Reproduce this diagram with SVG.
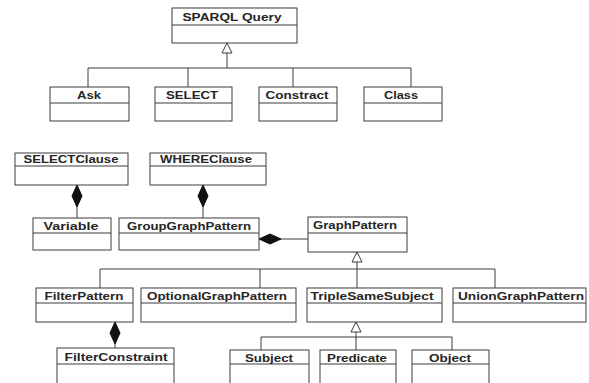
<svg xmlns="http://www.w3.org/2000/svg" width="589" height="383" viewBox="0 0 589 383">
  <style>
    .box rect { fill: #ffffff; stroke: #3c3c3c; stroke-width: 1; }
    .box line { stroke: #3c3c3c; stroke-width: 1; }
    .box text { font-family: "Liberation Sans", Arial, sans-serif; font-weight: bold; font-size: 11.5px; fill: #262626; text-anchor: middle; }
    .conn path { fill: none; stroke: #3c3c3c; stroke-width: 1; }
  </style>
  <defs>
    <!-- hollow triangle: UML generalization -->
    <marker id="gen" markerUnits="userSpaceOnUse" markerWidth="14" markerHeight="14" refX="0" refY="0" viewBox="-2 -7 14 14" orient="auto" overflow="visible">
      <path d="M0 0 L10 -5 L10 5 Z" fill="#ffffff" stroke="#3c3c3c" stroke-width="1"/>
    </marker>
    <!-- filled diamond: UML composition -->
    <marker id="comp" markerUnits="userSpaceOnUse" markerWidth="26" markerHeight="12" refX="0" refY="0" viewBox="-2 -6 26 12" orient="auto" overflow="visible">
      <path d="M0 0 L11 -5 L22 0 L11 5 Z" fill="#111111" stroke="#111111" stroke-width="1"/>
    </marker>
  </defs>
  <rect width="589" height="383" fill="#ffffff"/>

  <g class="conn" id="connectors">
    <!-- SPARQL Query subtypes -->
    <path d="M227 43 V68" marker-start="url(#gen)"/>
    <path d="M88 87 V68 H411 V87 M188 68 V87 M293 68 V87"/>
    <!-- compositions -->
    <path d="M77 185 V218" marker-start="url(#comp)"/>
    <path d="M203 185 V218" marker-start="url(#comp)"/>
    <path d="M259 239 H308" marker-start="url(#comp)"/>
    <path d="M115 322 V348" marker-start="url(#comp)"/>
    <!-- GraphPattern subtypes -->
    <path d="M357 252 V269" marker-start="url(#gen)"/>
    <path d="M100 288 V269 H495 V288 M260 269 V288 M357 269 V288"/>
    <!-- TripleSameSubject parts -->
    <path d="M356 322 V337" marker-start="url(#gen)"/>
    <path d="M261 350 V337 H452 V350 M356 337 V350"/>
  </g>

  <g class="box" id="sparql-query">
    <rect x="172" y="8" width="125" height="35"/><line x1="172" y1="25" x2="297" y2="25"/>
    <text x="232" y="21" textLength="99" lengthAdjust="spacingAndGlyphs">SPARQL Query</text>
  </g>
  <g class="box" id="ask">
    <rect x="50" y="87" width="79" height="34"/><line x1="50" y1="103" x2="129" y2="103"/>
    <text x="89" y="99" textLength="24" lengthAdjust="spacingAndGlyphs">Ask</text>
  </g>
  <g class="box" id="select">
    <rect x="155" y="87" width="77" height="34"/><line x1="155" y1="103" x2="232" y2="103"/>
    <text x="192" y="99" textLength="52" lengthAdjust="spacingAndGlyphs">SELECT</text>
  </g>
  <g class="box" id="constract">
    <rect x="259" y="87" width="78" height="34"/><line x1="259" y1="103" x2="337" y2="103"/>
    <text x="297" y="99" textLength="63" lengthAdjust="spacingAndGlyphs">Constract</text>
  </g>
  <g class="box" id="class">
    <rect x="364" y="87" width="78" height="34"/><line x1="364" y1="103" x2="442" y2="103"/>
    <text x="401" y="99" textLength="34" lengthAdjust="spacingAndGlyphs">Class</text>
  </g>

  <g class="box" id="select-clause">
    <rect x="15" y="153" width="113" height="32"/><line x1="15" y1="166" x2="128" y2="166"/>
    <text x="71" y="163" textLength="95" lengthAdjust="spacingAndGlyphs">SELECTClause</text>
  </g>
  <g class="box" id="where-clause">
    <rect x="150" y="153" width="116" height="32"/><line x1="150" y1="166" x2="266" y2="166"/>
    <text x="206" y="163" textLength="92" lengthAdjust="spacingAndGlyphs">WHEREClause</text>
  </g>
  <g class="box" id="variable">
    <rect x="33" y="218" width="78" height="32"/><line x1="33" y1="233" x2="111" y2="233"/>
    <text x="71" y="230" textLength="55" lengthAdjust="spacingAndGlyphs">Variable</text>
  </g>
  <g class="box" id="group-graph-pattern">
    <rect x="119" y="218" width="140" height="32"/><line x1="119" y1="233" x2="259" y2="233"/>
    <text x="189" y="230" textLength="124" lengthAdjust="spacingAndGlyphs">GroupGraphPattern</text>
  </g>
  <g class="box" id="graph-pattern">
    <rect x="308" y="217" width="99" height="35"/><line x1="308" y1="233" x2="407" y2="233"/>
    <text x="355" y="229" textLength="84" lengthAdjust="spacingAndGlyphs">GraphPattern</text>
  </g>

  <g class="box" id="filter-pattern">
    <rect x="36" y="288" width="97" height="34"/><line x1="36" y1="303" x2="133" y2="303"/>
    <text x="84" y="300" textLength="79" lengthAdjust="spacingAndGlyphs">FilterPattern</text>
  </g>
  <g class="box" id="optional-graph-pattern">
    <rect x="141" y="288" width="155" height="34"/><line x1="141" y1="303" x2="296" y2="303"/>
    <text x="217" y="300" textLength="140" lengthAdjust="spacingAndGlyphs">OptionalGraphPattern</text>
  </g>
  <g class="box" id="triple-same-subject">
    <rect x="307" y="288" width="135" height="34"/><line x1="307" y1="303" x2="442" y2="303"/>
    <text x="372" y="300" textLength="123" lengthAdjust="spacingAndGlyphs">TripleSameSubject</text>
  </g>
  <g class="box" id="union-graph-pattern">
    <rect x="453" y="288" width="133" height="34"/><line x1="453" y1="303" x2="586" y2="303"/>
    <text x="521" y="300" textLength="126" lengthAdjust="spacingAndGlyphs">UnionGraphPattern</text>
  </g>

  <g class="box" id="filter-constraint">
    <rect x="57" y="348" width="117" height="40"/><line x1="57" y1="364" x2="174" y2="364"/>
    <text x="116" y="361" textLength="103" lengthAdjust="spacingAndGlyphs">FilterConstraint</text>
  </g>
  <g class="box" id="subject">
    <rect x="230" y="350" width="79" height="40"/><line x1="230" y1="364" x2="309" y2="364"/>
    <text x="269" y="362" textLength="48" lengthAdjust="spacingAndGlyphs">Subject</text>
  </g>
  <g class="box" id="predicate">
    <rect x="320" y="350" width="76" height="40"/><line x1="320" y1="364" x2="396" y2="364"/>
    <text x="357" y="362" textLength="60" lengthAdjust="spacingAndGlyphs">Predicate</text>
  </g>
  <g class="box" id="object">
    <rect x="412" y="350" width="77" height="40"/><line x1="412" y1="364" x2="489" y2="364"/>
    <text x="450" y="362" textLength="42" lengthAdjust="spacingAndGlyphs">Object</text>
  </g>
</svg>
